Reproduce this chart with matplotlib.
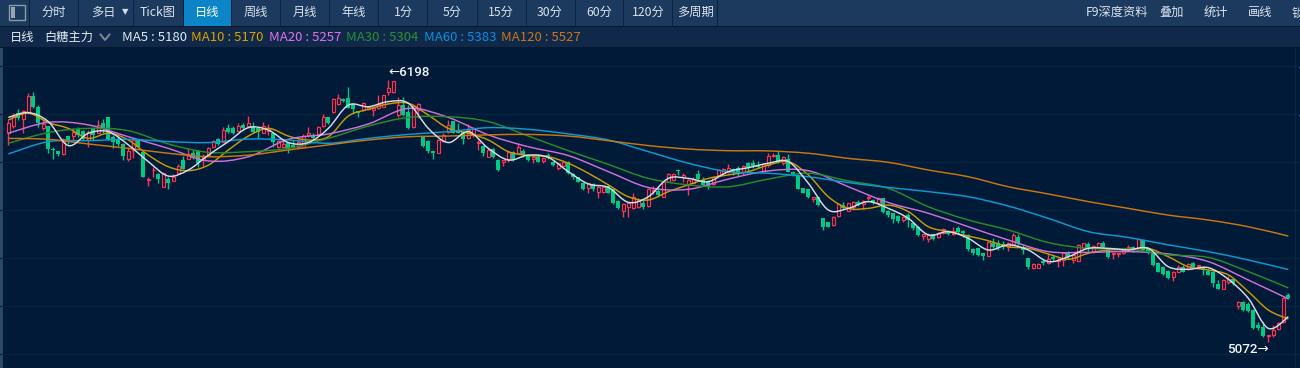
import numpy as np
import matplotlib
matplotlib.use("Agg")
import matplotlib.pyplot as plt
from matplotlib.patches import Rectangle, PathPatch
from matplotlib.path import Path

plt.rcParams['font.family'] = ['Noto Sans CJK SC', 'DejaVu Sans']

opens = [5969,6002,6055,6029,6055,6129,6083,5990,6000,5903,
5893,5880,5957,5957,5987,5979,5940,5986,5972,6012,
6037,5954,5943,5923,5857,5897,5940,5890,5770,5810,
5794,5739,5772,5765,5797,5854,5858,5886,5894,5854,
5876,5911,5943,5933,5990,5990,5980,6005,6000,6000,
5990,5972,5980,5969,5911,5911,5926,5919,5911,5911,
5961,5961,5966,6000,6037,6062,6095,6116,6119,6095,
6066,6069,6072,6069,6076,6080,6148,6148,6047,6090,
6062,5994,6069,5954,5937,5894,5886,5937,5976,6023,
5979,5976,5947,5961,5925,5914,5868,5901,5854,5847,
5858,5890,5886,5894,5871,5857,5868,5851,5876,5847,
5818,5830,5847,5794,5782,5757,5732,5749,5715,5716,
5742,5728,5679,5635,5650,5648,5653,5671,5656,5719,
5722,5696,5761,5768,5811,5782,5747,5757,5794,5768,
5761,5751,5789,5800,5804,5814,5818,5804,5843,5840,
5833,5808,5833,5871,5875,5843,5857,5804,5790,5732,
5728,5688,5693,5603,5589,5575,5615,5660,5636,5653,
5675,5665,5691,5682,5671,5689,5636,5625,5613,5596,
5617,5585,5567,5529,5513,5534,5521,5539,5550,5536,
5560,5550,5532,5470,5474,5453,5443,5499,5496,5491,
5478,5493,5521,5481,5431,5388,5391,5421,5410,5436,
5418,5424,5457,5424,5421,5474,5493,5460,5478,5496,
5474,5448,5450,5453,5474,5481,5474,5510,5474,5460,
5413,5395,5378,5352,5374,5392,5384,5413,5398,5388,
5378,5372,5321,5301,5331,5341,5226,5245,5235,5209,
5144,5137,5097,5101,5126,5159,5274]

highs = [6026,6055,6072,6069,6141,6145,6090,6026,6000,5911,
5893,5947,5957,5990,5997,5983,5983,5986,6026,6029,
6037,5961,5951,5926,5911,5947,5943,5890,5782,5825,
5800,5800,5782,5794,5837,5871,5907,5897,5897,5880,
5911,5940,5947,5997,6009,6000,6015,6012,6043,6019,
5997,6019,6009,5972,5940,5940,5926,5940,5943,5966,
5994,5972,6000,6052,6040,6119,6136,6119,6166,6098,
6066,6105,6086,6086,6133,6133,6198,6194,6126,6123,
6090,6095,6098,5957,5940,5894,5943,5969,6026,6023,
6012,5980,6009,5997,5940,5919,5904,5904,5857,5854,
5894,5894,5926,5900,5876,5876,5880,5868,5883,5850,
5843,5847,5850,5800,5782,5759,5757,5754,5742,5742,
5747,5732,5682,5668,5675,5714,5692,5682,5732,5742,
5736,5761,5797,5800,5817,5797,5772,5779,5811,5782,
5768,5782,5814,5818,5837,5821,5828,5833,5847,5854,
5850,5840,5883,5886,5894,5871,5880,5808,5792,5735,
5731,5696,5696,5603,5589,5613,5668,5675,5671,5678,
5682,5682,5703,5685,5696,5689,5639,5628,5616,5613,
5625,5589,5570,5534,5539,5537,5546,5560,5553,5564,
5570,5553,5534,5474,5477,5456,5506,5517,5510,5507,
5503,5539,5536,5489,5434,5413,5410,5427,5450,5446,
5431,5460,5464,5453,5493,5499,5501,5487,5503,5507,
5477,5453,5456,5477,5488,5484,5516,5513,5481,5463,
5416,5398,5381,5378,5403,5403,5413,5417,5402,5398,
5384,5375,5338,5341,5355,5344,5248,5248,5245,5212,
5159,5159,5101,5144,5159,5262,5281]

lows = [5919,5990,6026,5972,6055,6076,5997,5983,5886,5857,
5871,5875,5923,5937,5954,5940,5911,5940,5969,5969,
5940,5907,5916,5854,5850,5861,5908,5782,5744,5782,
5757,5739,5728,5764,5792,5815,5857,5857,5822,5828,
5871,5908,5919,5933,5972,5966,5976,5986,5997,5972,
5947,5969,5961,5911,5904,5908,5886,5904,5904,5908,
5954,5940,5961,5997,6009,6057,6090,6105,6076,6055,
6037,6066,6069,6043,6072,6080,6133,6141,6037,6043,
5986,5990,6033,5908,5886,5857,5883,5933,5969,5969,
5969,5921,5943,5954,5897,5871,5865,5863,5808,5830,
5847,5851,5883,5868,5851,5840,5844,5840,5858,5828,
5811,5828,5794,5771,5759,5725,5711,5722,5689,5713,
5711,5665,5642,5610,5610,5642,5646,5642,5650,5708,
5696,5693,5758,5764,5789,5761,5703,5754,5768,5742,
5728,5747,5787,5794,5797,5789,5785,5789,5804,5818,
5818,5804,5825,5865,5840,5833,5801,5785,5728,5711,
5689,5675,5656,5553,5564,5572,5610,5642,5633,5639,
5656,5642,5682,5665,5668,5625,5610,5585,5585,5589,
5567,5553,5527,5510,5503,5510,5517,5536,5533,5532,
5536,5521,5464,5446,5441,5424,5441,5477,5467,5470,
5464,5489,5489,5450,5384,5385,5388,5403,5407,5421,
5395,5398,5427,5413,5418,5470,5464,5456,5474,5474,
5431,5427,5436,5450,5464,5460,5471,5464,5450,5400,
5371,5360,5341,5334,5371,5371,5381,5391,5384,5360,
5358,5306,5298,5298,5321,5315,5212,5205,5200,5126,
5123,5094,5072,5094,5123,5155,5255]

closes = [6012,6043,6033,6066,6129,6080,6015,6009,5900,5899,
5880,5943,5940,5976,5961,5943,5976,5961,6004,5990,
5943,5933,5923,5871,5894,5940,5911,5782,5772,5812,
5771,5800,5757,5779,5828,5815,5880,5861,5840,5871,
5904,5937,5923,5983,5976,5969,6000,5990,6015,5976,
5976,6000,5990,5933,5937,5923,5901,5911,5933,5957,
5969,5947,5994,6037,6015,6116,6119,6108,6076,6072,
6055,6101,6083,6076,6095,6133,6162,6194,6090,6047,
5990,6086,6095,5914,5894,5883,5940,5961,6004,5972,
5972,5943,5983,5986,5930,5883,5897,5865,5811,5854,
5890,5854,5911,5876,5854,5865,5847,5861,5861,5833,
5840,5844,5797,5782,5761,5729,5754,5728,5739,5739,
5713,5668,5646,5665,5671,5696,5682,5653,5728,5725,
5703,5761,5794,5794,5805,5790,5768,5771,5771,5747,
5742,5779,5811,5814,5818,5801,5800,5830,5822,5828,
5825,5837,5871,5875,5847,5868,5804,5790,5728,5714,
5693,5693,5660,5567,5567,5610,5665,5646,5668,5675,
5660,5679,5696,5668,5689,5632,5617,5599,5593,5610,
5596,5560,5530,5534,5532,5513,5539,5556,5536,5550,
5543,5539,5470,5453,5446,5441,5503,5481,5474,5478,
5496,5532,5496,5467,5392,5407,5407,5410,5427,5427,
5424,5456,5438,5446,5489,5496,5470,5484,5499,5481,
5438,5453,5456,5474,5481,5470,5513,5467,5453,5402,
5374,5364,5348,5374,5395,5374,5407,5395,5402,5381,
5361,5324,5301,5338,5341,5324,5245,5209,5203,5130,
5130,5097,5101,5123,5155,5259,5259]

# moving averages read every 4 bars (MA5, MA10) or 8 bars (others)
ma5 = [6037,6058,6019,5916,5969,5976,5919,5847,5785,5811,5875,5933,5993,5983,5929,5929,5990,6090,6083,6105,6098,5990,
5929,5976,5904,5854,5875,5865,5804,5751,5736,5672,5696,5775,5775,5761,5804,5821,5840,5847,5754,5639,5646,5675,
5646,5603,5532,5546,5517,5467,5489,5467,5417,5438,5474,5474,5467,5474,5395,5384,5391,5341,5259,5130,5180]
ma10 = [6026,6055,6015,5990,5947,5969,5940,5875,5825,5808,5832,5897,5957,5990,5957,5940,5954,6043,6072,6095,6098,6047,
5990,5969,5940,5890,5873,5868,5840,5797,5747,5696,5682,5718,5747,5775,5790,5804,5832,5847,5790,5696,5646,5646,
5660,5632,5567,5546,5527,5507,5481,5474,5450,5427,5453,5467,5470,5474,5438,5395,5381,5360,5288,5209,5170]
ma20 = [5969,6016,6005,5954,5904,5850,5868,5943,5966,6009,6076,
6037,5962,5911,5873,5804,5736,5728,5772,5807,5808,5739,
5671,5625,5567,5510,5460,5457,5460,5450,5417,5338,5257]
ma30 = [5926,5972,5990,5980,5923,5887,5890,5904,5947,6000,6037,
6040,6019,5957,5894,5835,5775,5747,5739,5772,5797,5764,
5732,5653,5596,5553,5499,5474,5471,5446,5435,5374,5304]
ma60 = [5880,5933,5937,5943,5933,5929,5944,5940,5926,5947,5964,
5976,5993,5986,5966,5940,5890,5840,5804,5797,5782,5757,
5736,5718,5696,5656,5603,5546,5521,5489,5460,5424,5383]
ma120 = [5947,5943,5923,5904,5883,5868,5875,5897,5919,5940,5954,
5957,5962,5964,5957,5937,5916,5901,5894,5893,5883,5861,
5844,5811,5782,5739,5708,5675,5646,5617,5596,5567,5527]

grid_prices = [6258, 6052, 5845, 5639, 5433, 5226, 5020]

ma_names = ['MA5', 'MA10', 'MA20', 'MA30', 'MA60', 'MA120']
ma_last = [5180, 5170, 5257, 5304, 5383, 5527]
ma_series = [ma5, ma10, ma20, ma30, ma60, ma120]
ma_steps = [4, 4, 8, 8, 8, 8]
ma_colors = ['#d5dde5', '#c99a06', '#d06fd8', '#2b8a2b', '#0a9ad6', '#c8780f']
ma_text_colors = ['#dbe8f5', '#d9a200', '#e070f0', '#2a8f32', '#0b8fe0', '#c8761a']
ma_text_x = [122, 191, 269, 346, 424, 501]

toolbar_left = [('分时', 54), ('多日', 103), ('Tick图', 158), ('日线', 207), ('周线', 256),
                ('月线', 305), ('年线', 354), ('1分', 403), ('5分', 452), ('15分', 501),
                ('30分', 550), ('60分', 599), ('120分', 648), ('多周期', 695)]
toolbar_right = [('F9深度资料', 1117), ('叠加', 1172), ('统计', 1216), ('画线', 1260), ('锁', 1298)]
separators = [29, 78, 133, 183, 231, 280, 329, 378, 427, 477, 526, 575, 623, 672, 717]

BG = '#011a37'
W, H = 1300, 368
fig = plt.figure(figsize=(W / 100, H / 100), dpi=100, facecolor=BG)

# window chrome, in pixel coordinates
ui = fig.add_axes([0, 0, 1, 1], zorder=0)
ui.set_xlim(0, W)
ui.set_ylim(H, 0)
ui.axis('off')
ui.add_patch(Rectangle((0, 0), W, 26, fc='#1c3a5e', ec='none'))
ui.add_patch(Rectangle((0, 26), W, 1.2, fc='#06182c', ec='none'))
ui.add_patch(Rectangle((0, 27), W, 20, fc='#10294a', ec='none'))
ui.add_patch(Rectangle((0, 47), W, 1, fc='#06182c', ec='none'))
ui.add_patch(Rectangle((183, 0), 48, 26, fc='#0b84c8', ec='none'))
ui.add_patch(Rectangle((0, 48), 3, H - 48, fc='#2a4868', ec='none'))
ui.add_patch(Rectangle((1295, 48), 1, H - 48, fc='#0c2743', ec='none'))
for sx in separators:
    ui.add_patch(Rectangle((sx - 0.5, 0), 1, 26, fc='#0b2240', ec='none'))
ui.add_patch(Rectangle((9, 5), 16, 15, fc='none', ec='#8c9aa8', lw=1))
ui.add_patch(Rectangle((11, 7), 4, 11, fc='#9aa6b2', ec='none'))
ui.text(125, 11.5, '▼', color='#d5dde5', fontsize=6, ha='center', va='center',
        family=['DejaVu Sans'])
for label, cx in toolbar_left:
    ui.text(cx, 12.5, label, color='#ffffff' if label == '日线' else '#d9e2ec',
            fontsize=8.8, ha='center', va='center')
for label, cx in toolbar_right:
    ui.text(cx, 12.5, label, color='#d9e2ec', fontsize=8.8, ha='center', va='center')
ui.text(10, 37.5, '日线', color='#e4ebf2', fontsize=8.8, ha='left', va='center')
ui.text(44, 37.5, '白糖主力', color='#e4ebf2', fontsize=8.8, ha='left', va='center')
ui.plot([100.5, 105, 109.5], [34.5, 40, 34.5], color='#7d8b99', lw=1.4)
for name, val, col, tx in zip(ma_names, ma_last, ma_text_colors, ma_text_x):
    ui.text(tx, 37.5, f'{name} : {val}', color=col, fontsize=9.5, ha='left', va='center')
for gy in (66.5, 114.5):
    ui.add_patch(Rectangle((1298.5, gy - 1), 1.5, 2, fc='#2a6fd0', ec='none'))

# price chart: y pixel 48..368, one bar every 5 pixels starting at x = 8.33
ax = fig.add_axes([0, 0, 1, (H - 48) / H], zorder=1)
ax.patch.set_alpha(0)
PX_X = 5.0
PX_P = 4.3
ax.set_xlim(-8.33 / PX_X, (W - 8.33) / PX_X)
ax.set_ylim(6198 - (H - 80) * PX_P, 6198 + (80 - 48) * PX_P)
for s in ax.spines.values():
    s.set_visible(False)
ax.set_xticks([])
ax.set_yticks(grid_prices)
ax.tick_params(left=False, labelleft=False)
ax.grid(axis='y', color='#0a2340', lw=1)
ax.set_axisbelow(True)

x = np.arange(len(opens))
o, h, l, c = map(np.array, (opens, highs, lows, closes))
up = c >= o
RED, GREEN = '#ff3350', '#00c985'
ax.vlines(x[up], l[up], h[up], color=RED, lw=1.0, zorder=2)
ax.vlines(x[~up], l[~up], h[~up], color=GREEN, lw=1.0, zorder=2)
ax.bar(x[up], (c - o)[up], bottom=o[up], width=0.64, facecolor=BG, edgecolor=RED, lw=0.85, zorder=3)
ax.bar(x[~up], (c - o)[~up], bottom=o[~up], width=0.74, color=GREEN, lw=0, zorder=3)


def smooth_path(xs, ys):
    """Curve through the read points (the terminal draws its averages smoothed)."""
    pts = np.column_stack((xs, ys)).astype(float)
    prev_pts = np.vstack((pts[0], pts[:-1]))
    next_pts = np.vstack((pts[1:], pts[-1]))
    tang = (next_pts - prev_pts) / 6.0
    verts = [tuple(pts[0])]
    codes = [Path.MOVETO]
    for k in range(len(pts) - 1):
        verts += [tuple(pts[k] + tang[k]), tuple(pts[k + 1] - tang[k + 1]), tuple(pts[k + 1])]
        codes += [Path.CURVE4] * 3
    return Path(verts, codes)


for series, step, col in zip(ma_series, ma_steps, ma_colors):
    xs = np.arange(len(series)) * step
    ax.add_patch(PathPatch(smooth_path(xs, series), fc='none', ec=col, lw=1.05,
                           zorder=4 + (col == '#d5dde5')))

i_hi = int(np.argmax(h))
i_lo = int(np.argmin(l))
ax.annotate(f'←{h[i_hi]}', xy=(i_hi, h[i_hi]), xytext=(0.5, 8), textcoords='offset pixels',
            color='#f2f6fa', fontsize=9.6, fontweight='medium', ha='left', va='center',
            family=['Roboto', 'DejaVu Sans'])
ax.annotate(f'{l[i_lo]}→', xy=(i_lo, l[i_lo]), xytext=(1, -8), textcoords='offset pixels',
            color='#f2f6fa', fontsize=9.6, fontweight='medium', ha='right', va='center',
            family=['Roboto', 'DejaVu Sans'])

fig.savefig('out.png', dpi=100, facecolor=BG)
